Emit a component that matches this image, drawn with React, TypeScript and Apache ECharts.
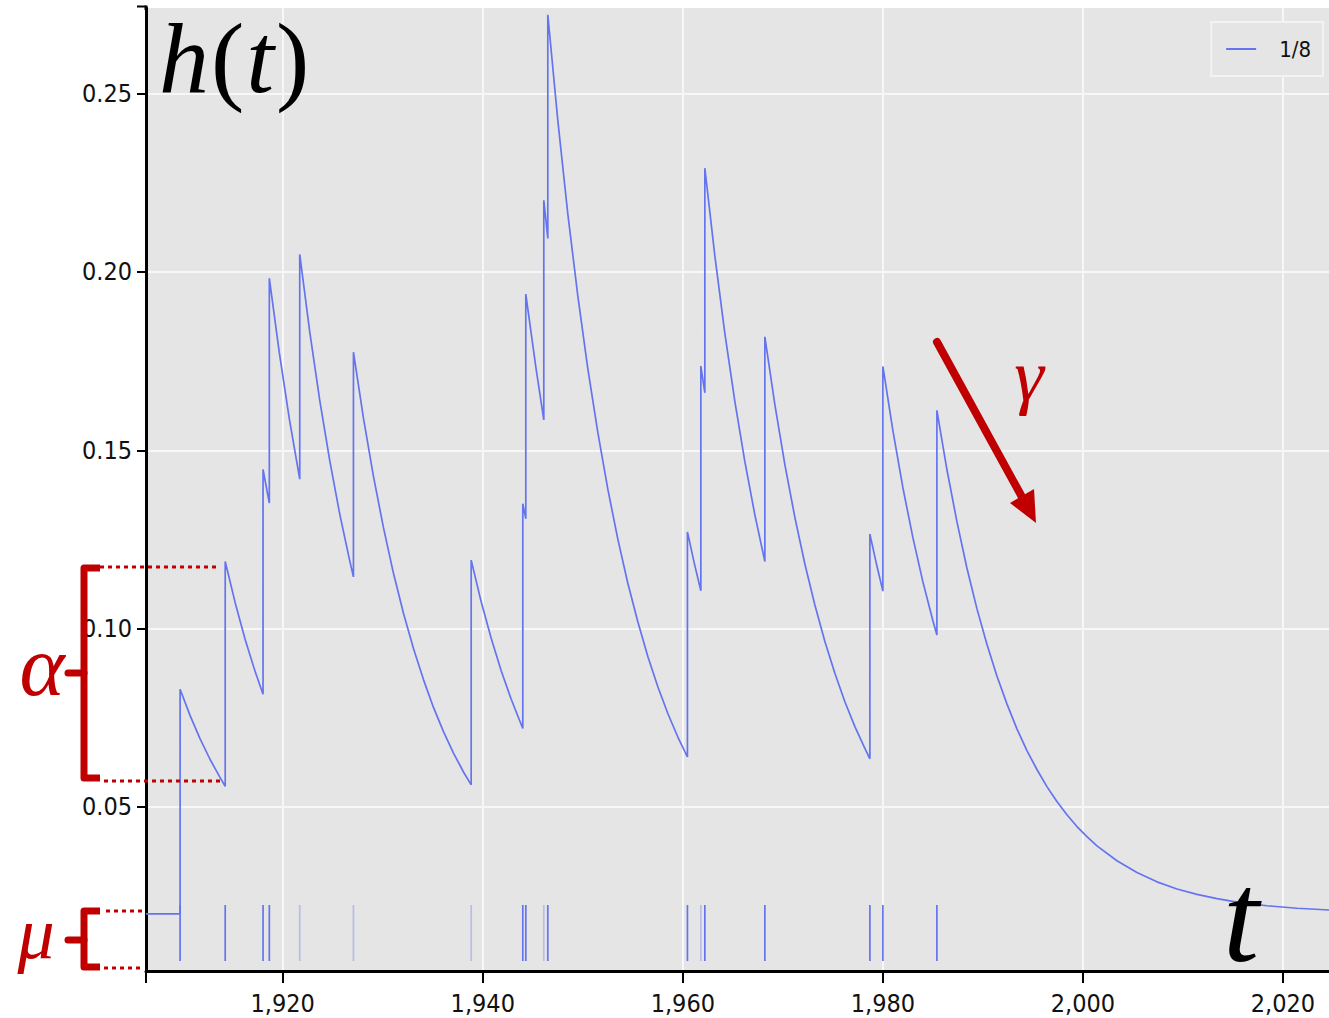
import React, { useEffect, useRef } from "react";
import * as echarts from "echarts";

// ---- data ----
const seriesName = "1/8";

// h(t) curve, [year, intensity] (vertical jumps use repeated years)
const curve: [number, number][] = [
  [1906.33, 0.02], [1909.74, 0.02], [1909.74, 0.083],
  [1910.74, 0.0756], [1911.74, 0.0691], [1912.74, 0.0633], [1913.74, 0.0582], [1914.25, 0.0558],
  [1914.25, 0.1188], [1915.25, 0.1072], [1916.25, 0.0969], [1917.25, 0.0879], [1918.03, 0.0816],
  [1918.03, 0.1446], [1918.66, 0.1352],
  [1918.66, 0.1982], [1919.66, 0.1773], [1920.66, 0.1588], [1921.7, 0.1419],
  [1921.7, 0.2049], [1922.7, 0.1832], [1923.7, 0.164], [1924.7, 0.1471], [1925.7, 0.1321], [1926.7, 0.119], [1927.07, 0.1145],
  [1927.07, 0.1775], [1928.07, 0.159], [1929.07, 0.1427], [1930.07, 0.1283], [1931.07, 0.1155], [1932.07, 0.1043],
  [1933.07, 0.0944], [1934.07, 0.0857], [1935.07, 0.0779], [1936.07, 0.0711], [1937.07, 0.0651], [1938.07, 0.0598], [1938.84, 0.0562],
  [1938.84, 0.1192], [1939.84, 0.1075], [1940.84, 0.0973], [1941.84, 0.0882], [1942.84, 0.0802], [1944.0, 0.072],
  [1944.0, 0.135], [1944.3, 0.1308],
  [1944.3, 0.1938], [1945.3, 0.1734], [1946.1, 0.1585],
  [1946.1, 0.2201], [1946.5, 0.2094],
  [1946.5, 0.2721], [1947.5, 0.2425], [1948.5, 0.2163], [1949.5, 0.1933], [1950.5, 0.1729], [1951.5, 0.155],
  [1952.5, 0.1391], [1953.5, 0.1251], [1954.5, 0.1127], [1955.5, 0.1019], [1956.5, 0.0922], [1957.5, 0.0837],
  [1958.5, 0.0762], [1959.5, 0.0696], [1960.46, 0.064],
  [1960.46, 0.1271], [1961.13, 0.1185], [1961.8, 0.1106],
  [1961.8, 0.1736], [1962.2, 0.1661],
  [1962.2, 0.2291], [1963.2, 0.2045], [1964.2, 0.1828], [1965.2, 0.1637], [1966.2, 0.1468], [1967.2, 0.1319], [1968.2, 0.1188],
  [1968.2, 0.1818], [1969.2, 0.1628], [1970.2, 0.146], [1971.2, 0.1312], [1972.2, 0.1181], [1973.2, 0.1066],
  [1974.2, 0.0964], [1975.2, 0.0875], [1976.2, 0.0795], [1977.2, 0.0725], [1978.2, 0.0664], [1978.7, 0.0635],
  [1978.7, 0.1265], [1979.35, 0.1182], [1980.0, 0.1105],
  [1980.0, 0.1735], [1981.0, 0.1555], [1982.0, 0.1395], [1983.0, 0.1255], [1984.0, 0.1131], [1985.0, 0.1022], [1985.4, 0.0982],
  [1985.4, 0.1612], [1986.4, 0.1446], [1987.4, 0.13], [1988.4, 0.117], [1989.4, 0.1056], [1990.4, 0.0956],
  [1991.4, 0.0867], [1992.4, 0.0789], [1993.4, 0.0719], [1994.4, 0.0658], [1995.4, 0.0605], [1996.4, 0.0557],
  [1997.4, 0.0515], [1998.4, 0.0478], [1999.4, 0.0445], [2000.4, 0.0417], [2001.4, 0.0391], [2003.4, 0.0349],
  [2005.4, 0.0316], [2007.4, 0.029], [2009.4, 0.027], [2011.4, 0.0255], [2013.4, 0.0243], [2015.4, 0.0233],
  [2018.4, 0.0223], [2021.4, 0.0216], [2024.6, 0.0211],
];

// event times (rug marks at the bottom)
const events: number[] = [
  1909.74, 1914.25, 1918.03, 1918.66, 1921.7, 1927.07, 1938.84, 1944.0, 1944.3,
  1946.1, 1946.5, 1960.46, 1961.8, 1962.2, 1968.2, 1978.7, 1980.0, 1985.4,
];
const faintEvents: number[] = [1921.7, 1927.07, 1938.84, 1946.1, 1961.8];
const rugTop = 0.0225;
const rugBottom = 0.0068;

const xTicks: number[] = [1920, 1940, 1960, 1980, 2000, 2020];
const yTicks: number[] = [0.05, 0.1, 0.15, 0.2, 0.25];
const xRange: [number, number] = [1906.33, 2024.6];
const yRange: [number, number] = [0.004, 0.274];

const BLUE = "#6474ef";
const RED = "#c00000";
const LABEL_FONT = "'Liberation Sans Narrow', 'DejaVu Sans Condensed', 'Liberation Sans', sans-serif";
const MATH_FONT = "'Liberation Serif', 'DejaVu Serif', serif";

export default function App() {
  const ref = useRef<HTMLDivElement>(null);

  useEffect(() => {
    if (!ref.current) return;
    const chart = echarts.init(ref.current, undefined, { renderer: "svg" });

    const redLine = (x1: number, y1: number, x2: number, y2: number, w: number, dash?: number[]) => ({
      type: "line",
      z: 100,
      shape: { x1, y1, x2, y2 },
      style: { stroke: RED, lineWidth: w, lineDash: dash, lineCap: dash ? "butt" : "round" },
    });

    const bracket = (top: number, bottom: number, mid: number) => [
      {
        type: "polyline",
        z: 100,
        shape: { points: [[100, top], [84, top], [84, bottom], [100, bottom]] },
        style: { stroke: RED, lineWidth: 7, fill: null, lineJoin: "round", lineCap: "butt" },
      },
      redLine(68, mid, 84, mid, 7),
    ];

    const option: any = {
      animation: false,
      backgroundColor: "#ffffff",
      grid: {
        left: 146,
        top: 8,
        right: 0,
        bottom: 47,
        show: true,
        backgroundColor: "#e5e5e5",
        borderWidth: 0,
      },
      legend: {
        data: [{ name: seriesName, icon: "rect" }],
        right: 6,
        top: 22,
        itemWidth: 30,
        itemHeight: 2,
        padding: [16, 12, 16, 15],
        backgroundColor: "#e5e5e5",
        borderColor: "#f3f3f3",
        borderWidth: 2,
        textStyle: { fontSize: 22, fontFamily: LABEL_FONT, color: "#111", padding: [0, 0, 0, 18] },
      },
      xAxis: {
        type: "value",
        min: xRange[0],
        max: xRange[1],
        axisLine: { show: true, onZero: false, lineStyle: { color: "#000", width: 3 } },
        axisTick: { show: true, length: 12, customValues: xTicks, lineStyle: { color: "#000", width: 2 } },
        axisLabel: {
          customValues: xTicks,
          margin: 20,
          fontSize: 25,
          fontFamily: LABEL_FONT,
          color: "#111",
          formatter: (v: number) => String(Math.round(v)).replace(/\B(?=(\d{3})+(?!\d))/g, ","),
        },
        splitLine: { show: true, lineStyle: { color: "#f7f7f7", width: 2 } },
      },
      yAxis: {
        type: "value",
        min: yRange[0],
        max: yRange[1],
        axisLine: { show: true, onZero: false, lineStyle: { color: "#000", width: 3 } },
        axisTick: { show: true, length: 9, customValues: yTicks, lineStyle: { color: "#000", width: 2 } },
        axisLabel: {
          customValues: yTicks,
          margin: 14,
          fontSize: 25,
          fontFamily: LABEL_FONT,
          color: "#111",
          formatter: (v: number) => v.toFixed(2),
        },
        splitLine: { show: true, lineStyle: { color: "#f7f7f7", width: 2 } },
      },
      series: [
        {
          name: seriesName,
          type: "line",
          data: curve,
          showSymbol: false,
          symbol: "none",
          lineStyle: { color: BLUE, width: 1.7 },
          itemStyle: { color: BLUE },
          z: 3,
        },
        {
          name: "events",
          type: "custom",
          data: events.map((t) => [t, rugTop]),
          encode: { x: 0, y: 1 },
          z: 2,
          renderItem: (_params: any, api: any) => {
            const t = api.value(0);
            const p1 = api.coord([t, rugTop]);
            const p2 = api.coord([t, rugBottom]);
            const faint = faintEvents.indexOf(t) >= 0;
            return {
              type: "line",
              shape: { x1: p1[0], y1: p1[1], x2: p2[0], y2: p2[1] },
              style: { stroke: BLUE, lineWidth: 1.7, opacity: faint ? 0.35 : 1 },
            };
          },
        },
      ],
      graphic: [
        // outer ticks of the axes
        { type: "line", z: 50, shape: { x1: 137, y1: 6.5, x2: 146, y2: 6.5 }, style: { stroke: "#000", lineWidth: 2 } },
        { type: "line", z: 50, shape: { x1: 146, y1: 5.5, x2: 146, y2: 10 }, style: { stroke: "#000", lineWidth: 3 } },
        { type: "line", z: 50, shape: { x1: 146, y1: 970, x2: 146, y2: 983 }, style: { stroke: "#000", lineWidth: 2 } },
        // h(t)
        {
          type: "text",
          z: 100,
          x: 157,
          y: 58,
          style: {
            text: "{i|h}{r|(}{i|t}{r|)}",
            verticalAlign: "middle",
            fill: "#000",
            rich: {
              i: { fontFamily: MATH_FONT, fontStyle: "italic", fontSize: 100, fill: "#000", padding: [0, 2, 0, 2] },
              r: { fontFamily: MATH_FONT, fontSize: 100, fill: "#000" },
            },
          },
        },
        // t at bottom right
        {
          type: "text",
          z: 100,
          x: 1241,
          y: 917,
          style: {
            text: "t",
            fontFamily: MATH_FONT,
            fontStyle: "italic",
            fontSize: 130,
            fill: "#000",
            align: "center",
            verticalAlign: "middle",
          },
        },
        // alpha annotation
        {
          type: "text",
          z: 100,
          x: 42,
          y: 666,
          style: { text: "α", fontFamily: MATH_FONT, fontStyle: "italic", fontSize: 86, fill: RED, align: "center", verticalAlign: "middle" },
        },
        ...bracket(568, 778, 673),
        redLine(100, 567, 216, 567, 3, [4, 4]),
        redLine(104, 781, 221, 781, 3, [4, 4]),
        // mu annotation
        {
          type: "text",
          z: 100,
          x: 36,
          y: 933,
          style: { text: "μ", fontFamily: MATH_FONT, fontStyle: "italic", fontSize: 74, fill: RED, align: "center", verticalAlign: "middle" },
        },
        ...bracket(911, 967, 940),
        redLine(106, 911, 142, 911, 3, [4, 4]),
        redLine(104, 968, 140, 968, 3, [4, 4]),
        // gamma arrow
        redLine(937, 342, 1022, 497, 8),
        {
          type: "polygon",
          z: 100,
          shape: { points: [[1036, 523], [1034, 489], [1010, 503]] },
          style: { fill: RED },
        },
        {
          type: "text",
          z: 100,
          x: 1029,
          y: 374,
          style: { text: "γ", fontFamily: MATH_FONT, fontStyle: "italic", fontSize: 75, fill: RED, align: "center", verticalAlign: "middle" },
        },
      ],
    };

    chart.setOption(option);
    return () => chart.dispose();
  }, []);

  return (
    <div
      ref={ref}
      style={{ position: "absolute", left: 0, top: 0, width: 1329, height: 1018 }}
    />
  );
}
